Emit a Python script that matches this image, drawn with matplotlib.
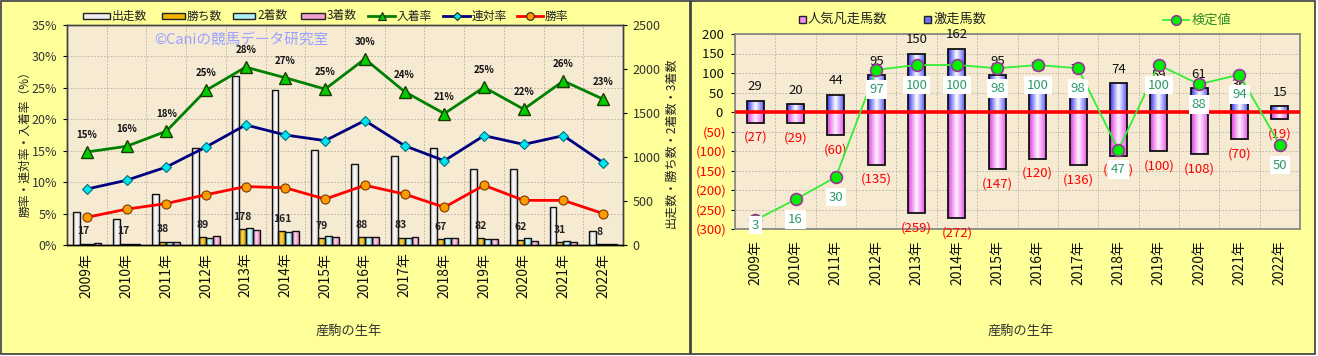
import numpy as np
import matplotlib
matplotlib.use('Agg')
import matplotlib.pyplot as plt
from matplotlib.patches import Rectangle
from matplotlib.lines import Line2D
from matplotlib.colors import LinearSegmentedColormap
from matplotlib.ticker import FixedLocator, FuncFormatter

plt.rcParams['font.family'] = ['Noto Sans CJK JP', 'DejaVu Sans']

# ---------------- data ----------------
years = ['2009年', '2010年', '2011年', '2012年', '2013年', '2014年', '2015年',
         '2016年', '2017年', '2018年', '2019年', '2020年', '2021年', '2022年']

starts = [378, 299, 576, 1098, 1920, 1761, 1076, 920, 1014, 1098, 860, 860, 428, 162]
wins = [17, 17, 38, 89, 178, 161, 79, 88, 83, 67, 82, 62, 31, 8]
seconds = [17, 14, 33, 82, 189, 147, 100, 94, 77, 80, 68, 76, 43, 13]
thirds = [22, 16, 33, 98, 176, 157, 88, 88, 87, 82, 66, 48, 38, 17]

place_rate = [14.8, 15.7, 18.1, 24.6, 28.3, 26.6, 24.8, 29.6, 24.4, 20.9, 25.1, 21.6, 26.1, 23.2]
quinella_rate = [8.9, 10.3, 12.4, 15.6, 19.1, 17.5, 16.6, 19.8, 15.8, 13.4, 17.4, 16.0, 17.4, 13.1]
win_rate = [4.4, 5.7, 6.6, 8.0, 9.3, 9.1, 7.3, 9.5, 8.1, 6.0, 9.5, 7.1, 7.1, 5.0]

upset_counts = [29, 20, 44, 95, 150, 162, 95, 78, 73, 74, 59, 61, 36, 15]
flop_counts = [27, 29, 60, 135, 259, 272, 147, 120, 136, 112, 100, 108, 70, 19]
test_values = [3, 16, 30, 97, 100, 100, 98, 100, 98, 47, 100, 88, 94, 50]

right_ticks = [-300, -250, -200, -150, -100, -50, 0, 50, 100, 150, 200]

# ---------------- figure ----------------
W, H = 1318, 356
fig = plt.figure(figsize=(W / 100, H / 100), dpi=100)
fig.patch.set_facecolor('white')


def box(l, t, r, b):
    return [l / W, 1 - b / H, (r - l) / W, (b - t) / H]


bg = fig.add_axes([0, 0, 1, 1], zorder=-10)
bg.set_xlim(0, W)
bg.set_ylim(H, 0)
bg.axis('off')
bg.add_patch(Rectangle((1, 1), 689, 353, fc='#FFFF99', ec='#3C3C3C', lw=1.2))
bg.add_patch(Rectangle((691, 1), 624, 353, fc='#FFFF99', ec='#3C3C3C', lw=1.2))

PLOT_BG = '#F6EAD3'
GRID = dict(color='#B5AEA0', lw=0.6, ls=(0, (2, 2)))


def gradient_bars(ax, patches, colors, z):
    cmap = LinearSegmentedColormap.from_list('g', colors)
    grad = np.linspace(0, 1, 64).reshape(1, -1)
    for p in patches:
        x0, w_ = p.get_x(), p.get_width()
        y0, h_ = p.get_y(), p.get_height()
        lo, hi = min(y0, y0 + h_), max(y0, y0 + h_)
        if hi - lo <= 0:
            continue
        im = ax.imshow(grad, cmap=cmap, extent=[x0, x0 + w_, lo, hi],
                       aspect='auto', interpolation='bilinear', zorder=z)
        im.set_clip_path(p)


x = np.arange(len(years))

# ================= LEFT CHART =================
axL = fig.add_axes(box(67, 25, 623, 245))
axL.set_facecolor(PLOT_BG)
bw = 0.175
bar_series = [
    (starts, ['#B0B0B0', '#FFFFFF', '#D8D8D8']),
    (wins, ['#C89400', '#FFD84A', '#D09C00']),
    (seconds, ['#60CDE0', '#E6FFFF', '#70D5E5']),
    (thirds, ['#E070AE', '#FFD8EC', '#E080B8']),
]
for k, (vals, cols) in enumerate(bar_series):
    bc = axL.bar(x + (k - 1.5) * bw, vals, bw, fc='none', ec='#111111', lw=1.0, zorder=4)
    gradient_bars(axL, bc.patches, cols, 3)

for xi, v in zip(x, wins):
    axL.annotate(f'{v}', (xi - 0.5 * bw, v), xytext=(0, 8.8), textcoords='offset points',
                 ha='center', va='center', fontsize=7.5, fontweight='bold', color='#222222', zorder=6)

axL2 = axL.twinx()
axL.yaxis.tick_right()
axL.yaxis.set_label_position('right')
axL2.yaxis.tick_left()
axL2.yaxis.set_label_position('left')

axL.set_ylim(0, 2500)
axL.set_yticks([0, 500, 1000, 1500, 2000, 2500])
axL.yaxis.set_minor_locator(FixedLocator([2500 * k / 7 for k in range(1, 7)]))
axL.set_xlim(-0.5, 13.5)
axL.set_xticks(x)
axL.set_xticklabels(years, rotation=90, fontsize=10)
axL.set_xticks(np.arange(0.5, 13, 1), minor=True)
axL.grid(False)
axL.grid(which='minor', axis='both', **GRID)
axL.tick_params(axis='x', which='both', length=0, pad=5.5, labelcolor='#111111')
axL.tick_params(axis='y', which='major', right=True, left=False, labelright=True, labelleft=False,
                length=3, labelsize=9, labelcolor='#333333', pad=4)
axL.tick_params(axis='y', which='minor', length=0)

axL2.plot(x, place_rate, color='#008000', lw=2.0, marker='^', ms=8, mfc='#00CC00', mec='#1A3A00', mew=1.0, zorder=5)
axL2.plot(x, quinella_rate, color='#000080', lw=2.0, marker='D', ms=5.5, mfc='#00E5EE', mec='#007080', mew=0.8, zorder=5)
axL2.plot(x, win_rate, color='#FF0000', lw=2.0, marker='o', ms=6.5, mfc='#FF9A00', mec='#7A3A00', mew=0.8, zorder=5)
for xi, v in zip(x, place_rate):
    axL2.annotate(f'{v:.0f}%', (xi, v), xytext=(0, 12.3), textcoords='offset points',
                  ha='center', va='center', fontsize=7, fontweight='bold', color='#111111', zorder=6)
axL2.set_ylim(0, 35)
axL2.set_yticks(range(0, 36, 5))
axL2.yaxis.set_major_formatter(FuncFormatter(lambda v, p: f'{v:.0f}%'))
axL2.tick_params(axis='y', left=True, right=False, labelleft=True, labelright=False,
                 length=3, labelsize=9, labelcolor='#333333', pad=4)

for a in (axL, axL2):
    for s in a.spines.values():
        s.set_color('#404040')
        s.set_linewidth(1.0)
    a.spines['bottom'].set_color('#000000')

# ================= RIGHT CHART =================
axR = fig.add_axes(box(735, 34, 1300, 229))
axR.set_facecolor(PLOT_BG)
rbw = 0.42
pos_b = axR.bar(x, upset_counts, rbw, fc='none', ec='#111111', lw=1.3, zorder=4)
gradient_bars(axR, pos_b.patches, ['#3434F2', '#FFFFFF', '#5A5AF6'], 3)
neg_b = axR.bar(x, [-v for v in flop_counts], rbw, fc='none', ec='#111111', lw=1.3, zorder=4)
gradient_bars(axR, neg_b.patches, ['#E03CE0', '#FFF2FF', '#EA5AEA'], 3)
axR.axhline(0, color='#FF0000', lw=2.6, zorder=5)

for xi, v in zip(x, upset_counts):
    axR.annotate(f'{v}', (xi, v), xytext=(0, 10), textcoords='offset points',
                 ha='center', va='center', fontsize=9.5, color='#111111', zorder=6)
for xi, v in zip(x, flop_counts):
    axR.annotate(f'({v})', (xi, -v), xytext=(0, -10.5), textcoords='offset points',
                 ha='center', va='center', fontsize=9.5, color='#FF0000', zorder=6,
                 annotation_clip=False)

axR.set_ylim(-300, 200)
axR.set_xlim(-0.5, 13.5)
axR.set_yticks(right_ticks)
axR.set_yticklabels([f'({-t})' if t < 0 else f'{t} ' for t in right_ticks])
for lbl, t in zip(axR.get_yticklabels(), right_ticks):
    lbl.set_color('#FF0000' if t < 0 else '#111111')
axR.set_xticks(x)
axR.set_xticklabels(years, rotation=90, fontsize=10)
axR.set_xticks(np.arange(0.5, 13, 1), minor=True)
axR.grid(which='major', axis='y', **GRID)
axR.grid(which='minor', axis='x', **GRID)
axR.tick_params(axis='x', which='both', length=0, pad=8, labelcolor='#111111')
axR.tick_params(axis='y', length=3, labelsize=9.5, pad=3)
for s in axR.spines.values():
    s.set_color('#808080')
    s.set_linewidth(1.2)

axR2 = axR.twinx()
axR2.plot(x, test_values, color='#33EE33', lw=1.3, marker='o', ms=8.5, mfc='#00EE00',
          mec='#993399', mew=1.2, zorder=5)
axR2.set_ylim(-2.5, 119.4)
axR2.set_yticks([])
for s in axR2.spines.values():
    s.set_visible(False)
for xi, v in zip(x, test_values):
    axR2.text(xi, max(v - 12.5, 0.0), f'{v}', ha='center', va='center', fontsize=9.5,
              color='#2E9A6A', zorder=8,
              bbox=dict(boxstyle='square,pad=0.22', fc='white', ec='none'))

# ================= overlay: legends, titles =================
ov = fig.add_axes([0, 0, 1, 1], zorder=20)
ov.set_xlim(0, W)
ov.set_ylim(H, 0)
ov.axis('off')
ov.patch.set_visible(False)

LY = 16
leg_bars = [(83, 110, '#EDEDED', '出走数'), (162, 185, '#F0B400', '勝ち数'),
            (233, 255, '#B0F0F4', '2着数'), (301, 325, '#F2A0CC', '3着数')]
for x0, x1, c, t in leg_bars:
    ov.add_patch(Rectangle((x0, LY - 3), x1 - x0, 6, fc=c, ec='#222222', lw=1.0))
    ov.text(x1 + 2, LY, t, ha='left', va='center', fontsize=8.5, color='#222222')
leg_lines = [(368, 395, '#008000', '^', '#00CC00', 6, '入着率'),
             (443, 470, '#000080', 'D', '#00E5EE', 4.5, '連対率'),
             (517, 543, '#FF0000', 'o', '#FF9A00', 5.5, '勝率')]
for x0, x1, c, m, mf, ms, t in leg_lines:
    ov.add_line(Line2D([x0, x1], [LY, LY], color=c, lw=2.0))
    ov.add_line(Line2D([(x0 + x1) / 2], [LY], marker=m, ms=ms, mfc=mf, mec='#222222', mew=0.8, color=c))
    ov.text(x1 + 2, LY, t, ha='left', va='center', fontsize=8.5, color='#222222')

ov.text(241, 41, '©Caniの競馬データ研究室', ha='center', va='center', fontsize=10.5, color='#9AA2FF')

ov.text(25, 141, '勝率・連対率・入着率（%）', rotation=90, ha='center', va='center', fontsize=8.5, color='#222222')
ov.text(671, 143, '出走数・勝ち数・2着数・3着数', rotation=90, ha='center', va='center', fontsize=8.7, color='#222222')
ov.text(349, 331, '産駒の生年', ha='center', va='center', fontsize=9.5, color='#333333')
ov.text(1021, 331, '産駒の生年', ha='center', va='center', fontsize=9.5, color='#333333')

RY = 19
ov.add_patch(Rectangle((799, RY - 3.5), 7, 7, fc='#F090F0', ec='#222222', lw=1.0))
ov.text(808, RY, '人気凡走馬数', ha='left', va='center', fontsize=9.5, color='#222222')
ov.add_patch(Rectangle((924, RY - 3.5), 7, 7, fc='#7070F8', ec='#222222', lw=1.0))
ov.text(933, RY, '激走馬数', ha='left', va='center', fontsize=9.5, color='#222222')
ov.add_line(Line2D([1163, 1189], [RY + 1, RY + 1], color='#33EE33', lw=1.3))
ov.add_line(Line2D([1176], [RY + 1], marker='o', ms=7, mfc='#00EE00', mec='#993399', mew=1.1))
ov.text(1192, RY + 1, '検定値', ha='left', va='center', fontsize=9.5, color='#2E8B2E')

fig.savefig('out.png', dpi=100)
